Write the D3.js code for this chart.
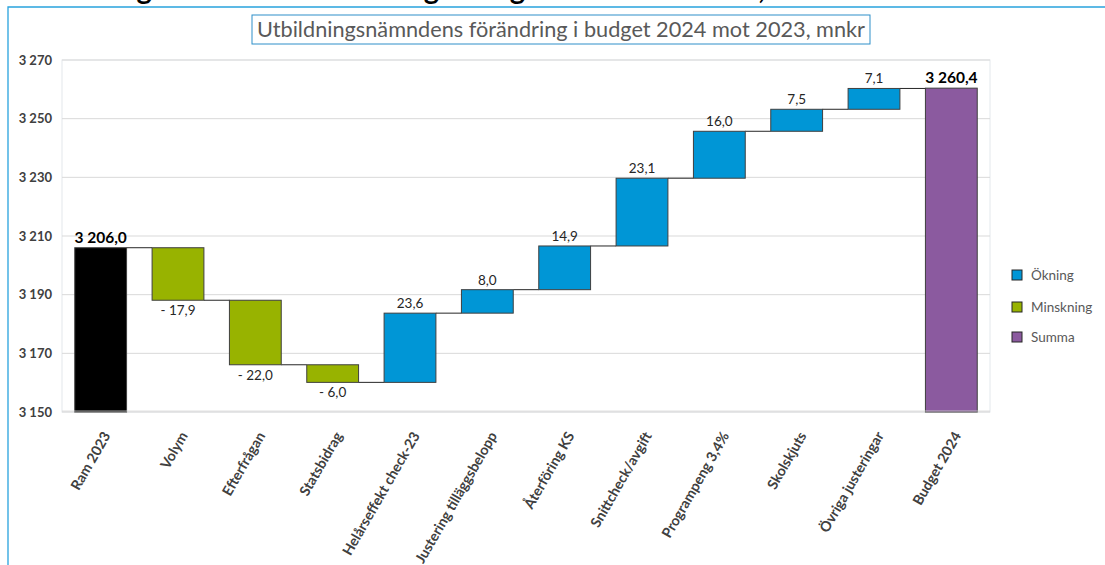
<!DOCTYPE html>
<html>
<head>
<meta charset="utf-8">
<script src="https://cdn.jsdelivr.net/npm/d3@7"></script>
<style>
  body { margin: 0; background: #fff; }
  svg { display: block; font-family: Lato, "Open Sans", sans-serif; }
</style>
</head>
<body>
<div id="visual"></div>
<script>
// Categories along the x axis
const categories = ["Ram 2023", "Volym", "Efterfrågan", "Statsbidrag", "Helårseffekt check-23",
    "Justering tilläggsbelopp", "Återföring KS", "Snittcheck/avgift", "Programpeng 3,4%",
    "Skolskjuts", "Övriga justeringar", "Budget 2024"];

// Start value, changes and final total (mnkr)
const values = [3206.0, -17.9, -22.0, -6.0, 23.6, 8.0, 14.9, 23.1, 16.0, 7.5, 7.1, 3260.4];

// Kind of each bar
const kinds = ["start", "minus", "minus", "minus", "plus", "plus", "plus", "plus", "plus", "plus", "plus", "sum"];

const yTicks = [3150, 3170, 3190, 3210, 3230, 3250, 3270];

const legendItems = [
    { key: "plus", label: "Ökning" },
    { key: "minus", label: "Minskning" },
    { key: "sum", label: "Summa" }
];

const colors = { start: "#000000", plus: "#0096d6", minus: "#98b300", sum: "#8b5a9f" };

const chartTitle = "Utbildningsnämndens förändring i budget 2024 mot 2023, mnkr";

function drawChart() {
    const W = 1105, H = 565;
    const plot = { left: 62, right: 990, top: 60, bottom: 412 };

    const sv = d3.formatLocale({ decimal: ",", thousands: "\u00a0", grouping: [3], currency: ["", ""] });
    const fmtTick = sv.format(",.0f");
    const fmtVal = sv.format(",.1f");

    // Running totals for the floating bars
    let running = 0;
    const data = values.map((v, i) => {
        let y0, y1;
        if (kinds[i] === "start") { y0 = 3150; y1 = v; running = v; }
        else if (kinds[i] === "sum") { y0 = 3150; y1 = v; }
        else { y0 = running; y1 = running + v; running = y1; }
        return { cat: categories[i], value: v, kind: kinds[i], y0: y0, y1: y1 };
    });

    const svg = d3.select("#visual")
        .append("svg")
        .attr("width", W)
        .attr("height", H);

    // Heading cut off at the top of the page (only descenders show, as in the original)
    svg.append("text")
        .attr("x", 17)
        .attr("y", -1)
        .attr("font-size", 29)
        .attr("font-weight", "bold")
        .attr("fill", "#000")
        .text(chartTitle);

    // Outer frame (top and left edges)
    svg.append("path")
        .attr("d", `M8,${H} L8,7 L${W},7`)
        .attr("fill", "none")
        .attr("stroke", "#29a3dd")
        .attr("stroke-width", 1.3);

    // Title box
    svg.append("rect")
        .attr("x", 252)
        .attr("y", 15)
        .attr("width", 870 - 252)
        .attr("height", 29)
        .attr("fill", "#fff")
        .attr("stroke", "#2e8fc9")
        .attr("stroke-width", 1);

    svg.append("text")
        .attr("x", 257)
        .attr("y", 37)
        .attr("font-size", 20.5)
        .attr("textLength", 608)
        .attr("lengthAdjust", "spacingAndGlyphs")
        .attr("fill", "#595959")
        .text(chartTitle);

    // Scales
    const x = d3.scaleBand()
        .domain(categories)
        .range([plot.left, plot.right])
        .paddingInner(0.33)
        .paddingOuter(0.165);

    const y = d3.scaleLinear()
        .domain([3150, 3270])
        .range([plot.bottom, plot.top]);

    // Plot area border
    svg.append("rect")
        .attr("x", plot.left)
        .attr("y", plot.top)
        .attr("width", plot.right - plot.left)
        .attr("height", plot.bottom - plot.top)
        .attr("fill", "none")
        .attr("stroke", "#e3e8ec");

    // Gridlines
    svg.append("g")
        .selectAll("line")
        .data(yTicks)
        .enter()
        .append("line")
        .attr("x1", plot.left)
        .attr("x2", plot.right)
        .attr("y1", d => y(d))
        .attr("y2", d => y(d))
        .attr("stroke", "#d9d9d9");

    // Y axis
    const yAxis = svg.append("g")
        .attr("transform", "translate(" + (plot.left - 10) + ",0)")
        .call(d3.axisLeft(y).tickValues(yTicks).tickFormat(fmtTick).tickSize(0).tickPadding(0));
    yAxis.select(".domain").remove();
    yAxis.selectAll("text")
        .attr("font-family", "Lato, sans-serif")
        .attr("font-size", 13)
        .attr("font-weight", "bold")
        .attr("fill", "#404040");

    // Connector lines between bars
    svg.append("g")
        .selectAll("line")
        .data(data.slice(0, -1))
        .enter()
        .append("line")
        .attr("x1", d => x(d.cat) + x.bandwidth())
        .attr("x2", (d, i) => x(categories[i + 1]))
        .attr("y1", d => y(d.y1))
        .attr("y2", d => y(d.y1))
        .attr("stroke", "#262626")
        .attr("stroke-width", 1);

    // Bars
    svg.append("g")
        .selectAll("rect")
        .data(data)
        .enter()
        .append("rect")
        .attr("x", d => x(d.cat))
        .attr("width", x.bandwidth())
        .attr("y", d => y(Math.max(d.y0, d.y1)))
        .attr("height", d => Math.abs(y(d.y0) - y(d.y1)))
        .attr("fill", d => colors[d.kind])
        .attr("stroke", "#3f3f3f")
        .attr("stroke-width", 1);

    // Baseline drawn over the bars
    svg.append("line")
        .attr("x1", plot.left)
        .attr("x2", plot.right)
        .attr("y1", plot.bottom - 1)
        .attr("y2", plot.bottom - 1)
        .attr("stroke", "#d9d9d9")
        .attr("stroke-opacity", 0.5)
        .attr("stroke-width", 1.5);

    // Data labels
    svg.append("g")
        .selectAll("text")
        .data(data)
        .enter()
        .append("text")
        .attr("x", d => x(d.cat) + x.bandwidth() / 2)
        .attr("y", d => d.kind === "minus" ? y(d.y1) + 15 : y(d.y1) - 5)
        .attr("text-anchor", "middle")
        .attr("font-size", d => (d.kind === "start" || d.kind === "sum") ? 15.5 : 13.5)
        .attr("font-weight", d => (d.kind === "start" || d.kind === "sum") ? "bold" : "normal")
        .attr("fill", d => (d.kind === "start" || d.kind === "sum") ? "#000" : "#262626")
        .text(d => d.kind === "minus" ? "- " + fmtVal(Math.abs(d.value)) : fmtVal(d.value));

    // X axis labels, rotated
    svg.append("g")
        .selectAll("text")
        .data(categories)
        .enter()
        .append("text")
        .attr("transform", d => "translate(" + (x(d) + x.bandwidth() / 2 + 6) + "," + (plot.bottom + 21) + ") rotate(-60)")
        .attr("text-anchor", "end")
        .attr("dy", "0.35em")
        .attr("font-size", 14.2)
        .attr("font-weight", "bold")
        .attr("fill", "#404040")
        .text(d => d);

    // Legend
    const legend = svg.append("g")
        .selectAll("g")
        .data(legendItems)
        .enter()
        .append("g")
        .attr("transform", (d, i) => "translate(1012," + [275, 307, 337][i] + ")");

    legend.append("rect")
        .attr("x", 0)
        .attr("y", -5)
        .attr("width", 10)
        .attr("height", 10)
        .attr("fill", d => colors[d.key])
        .attr("stroke", "#262626");

    legend.append("text")
        .attr("x", 19)
        .attr("dy", "0.35em")
        .attr("font-size", 13.5)
        .attr("fill", "#595959")
        .text(d => d.label);
}

drawChart();
</script>
</body>
</html>
